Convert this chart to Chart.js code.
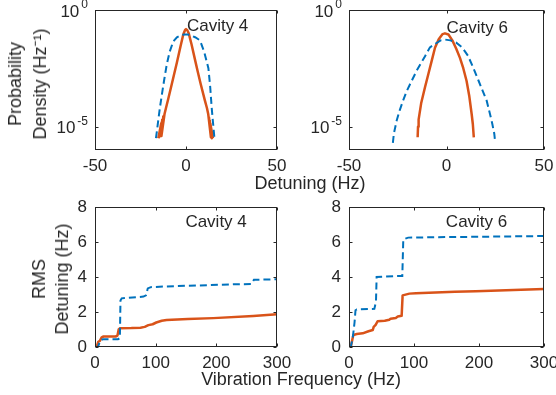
<!DOCTYPE html>
<html>
<head>
<meta charset="utf-8">
<script src="https://cdn.jsdelivr.net/npm/chart.js@4"></script>
<style>
  body { margin: 0; background: #fff; }
  #fig { position: relative; width: 556px; height: 395px; overflow: hidden;
         font-family: "Liberation Sans", Arial, sans-serif; color: #262626; }
  #fig canvas { position: absolute; left: 0; top: 0; }
  .lbl { position: absolute; font-size: 18px; white-space: nowrap; transform: translate(-50%, -50%); }
  .vlbl { position: absolute; font-size: 18px; white-space: nowrap; text-align: center;
          transform: translate(-50%, -50%) rotate(-90deg); }
</style>
</head>
<body>
<div id="fig">
  <canvas id="c4dens" width="556" height="395"></canvas>
  <canvas id="c6dens" width="556" height="395"></canvas>
  <canvas id="c4rms" width="556" height="395"></canvas>
  <canvas id="c6rms" width="556" height="395"></canvas>
  <div class="lbl" style="left:310px; top:183px;">Detuning (Hz)</div>
  <div class="lbl" style="left:301px; top:379px;">Vibration Frequency (Hz)</div>
  <div class="vlbl" style="left:28px; top:84px; line-height:25px;">Probability<br>Density (Hz⁻¹)</div>
  <div class="vlbl" style="left:51px; top:279px; line-height:23px;">RMS<br>Detuning (Hz)</div>
</div>
<script>
// --- styles ---
const FONT = { family: '"Liberation Sans", Arial, sans-serif', size: 17 };
const INK = '#262626';
const BLUE = '#0072BD';
const ORANGE = '#D95319';

// --- Cavity 4, detuning distribution ---
const c4BlueDet = [-16.5, -16, -15.2, -14.3, -13, -12, -10.6, -9, -7, -5, -3, -1, 1, 3, 5, 7.7, 10, 12.3, 13.3, 14.1, 14.8, 15.4, 15.6];
const c4BlueDens = [3.2e-6, 6.3e-6, 2e-5, 6.8e-5, 3.2e-4, 1e-3, 4.5e-3, 0.016, 0.045, 0.068, 0.08, 0.089, 0.089, 0.08, 0.068, 0.05, 0.016, 3.2e-3, 5e-4, 6.8e-5, 1.6e-5, 5e-6, 3.2e-6];
const c4OrangeDet = [-15.2, -13.6, -14.8, -13, -14.2, -12.4, -13.5, -11.8, -11, -9.7, -7.9, -6.5, -5, -3, -1.5, -0.5, 0, 0.7, 1.5, 3, 5, 6.5, 8, 10.4, 11.5, 12.2, 13.7, 12.6, 14.2, 13, 14.5, 13.4, 14.8];
const c4OrangeDens = [3.2e-6, 1.4e-5, 3.5e-6, 2e-5, 4e-6, 2.8e-5, 4e-6, 3.5e-5, 6.3e-5, 1.6e-4, 6.3e-4, 1.8e-3, 5.6e-3, 0.028, 0.089, 0.14, 0.151, 0.135, 0.1, 0.035, 7.1e-3, 2.2e-3, 7.1e-4, 1.3e-4, 6.3e-5, 3.5e-5, 3.5e-6, 2.5e-5, 3.2e-6, 1.8e-5, 3.5e-6, 1.3e-5, 3.2e-6];

// --- Cavity 6, detuning distribution ---
const c6BlueDet = [-27.5, -27, -25.5, -24, -22.3, -20.5, -18.7, -15.3, -11, -8.5, -5.9, -3, -0.8, 2, 5, 8, 11, 13.7, 16.3, 18.5, 20.6, 22.3, 23.5, 24.5, 25];
const c6BlueDens = [2e-6, 5e-6, 1.9e-5, 5e-5, 1.3e-4, 3.2e-4, 6.6e-4, 2.5e-3, 0.0105, 0.025, 0.035, 0.05, 0.054, 0.05, 0.04, 0.025, 0.011, 3.4e-3, 1e-3, 3.5e-4, 1.3e-4, 3.5e-5, 1.3e-5, 5e-6, 2e-6];
const c6OrangeDet = [-14.8, -14.6, -14.3, -13, -11, -9.3, -7.5, -5.9, -4, -2, -0.8, 1, 3, 5, 6.9, 8.6, 10.3, 11.7, 12.9, 13.5, 14];
const c6OrangeDens = [3.5e-6, 1e-5, 2e-5, 1e-4, 5e-4, 1.8e-3, 7.1e-3, 0.024, 0.056, 0.093, 0.1, 0.089, 0.05, 0.022, 8.9e-3, 3.2e-3, 9.1e-4, 2e-4, 3.5e-5, 1.3e-5, 3.5e-6];

// --- Cavity 4, cumulative RMS detuning ---
const c4BlueFreq = [0, 5, 8, 10, 14, 38, 41, 42, 44, 80, 84, 87, 92, 118, 228, 258, 262, 300];
const c4BlueRms = [0, 0.02, 0.3, 0.4, 0.45, 0.45, 0.5, 2.65, 2.78, 2.88, 2.95, 3.35, 3.42, 3.46, 3.58, 3.6, 3.84, 3.87];
const c4OrangeFreq = [0, 3, 5.5, 8, 11, 14, 34, 37, 39, 41, 60, 75, 82, 88, 95, 101, 110, 118, 153, 195, 261, 300];
const c4OrangeRms = [0, 0.05, 0.3, 0.35, 0.55, 0.6, 0.6, 0.65, 1.0, 1.07, 1.08, 1.1, 1.15, 1.25, 1.3, 1.4, 1.5, 1.54, 1.6, 1.65, 1.77, 1.87];

// --- Cavity 6, cumulative RMS detuning ---
const c6BlueFreq = [0, 3, 6, 8.5, 10, 12, 39, 41.5, 42.5, 70, 82, 83.5, 91, 150, 300];
const c6BlueRms = [0, 0.05, 0.6, 1.4, 2.1, 2.15, 2.18, 2.6, 4.0, 4.05, 4.06, 6.15, 6.25, 6.28, 6.34];
const c6OrangeFreq = [0, 3, 5, 6.7, 12, 21, 30, 36.5, 38, 41, 44, 55, 62, 64, 72, 75, 81, 82.5, 93, 103, 163, 195, 300];
const c6OrangeRms = [0, 0.05, 0.4, 0.69, 0.74, 0.78, 0.9, 0.97, 1.15, 1.26, 1.47, 1.5, 1.56, 1.62, 1.66, 1.74, 1.78, 2.95, 3.05, 3.07, 3.16, 3.18, 3.31];

// --- ticks ---
const detTicks = [-50, 0, 50];
const densTicks = [1e-5, 1];
const freqTicks = [0, 100, 200, 300];
const rmsTicks = [0, 2, 4, 6, 8];

const pts = (xs, ys) => xs.map((x, i) => ({ x, y: ys[i] }));

// box + inward ticks + log labels + cavity note
const framePlugin = {
  id: 'frame',
  afterDraw(chart, args, opts) {
    const { ctx, chartArea: a, scales: { x, y } } = chart;
    const L = Math.round(a.left) + 0.5, T = Math.round(a.top) + 0.5;
    const R = Math.round(a.right) - 0.5, B = Math.round(a.bottom) - 0.5;
    ctx.save();
    ctx.strokeStyle = INK;
    ctx.lineWidth = 1;
    ctx.strokeRect(L, T, R - L, B - T);
    ctx.beginPath();
    x.ticks.forEach(t => {
      const px = Math.round(x.getPixelForValue(t.value)) + 0.5;
      ctx.moveTo(px, B); ctx.lineTo(px, B - 3);
      ctx.moveTo(px, T); ctx.lineTo(px, T + 3);
    });
    y.ticks.forEach(t => {
      const py = Math.round(y.getPixelForValue(t.value)) + 0.5;
      ctx.moveTo(L, py); ctx.lineTo(L + 3, py);
      ctx.moveTo(R, py); ctx.lineTo(R - 3, py);
    });
    ctx.stroke();
    ctx.fillStyle = INK;
    if (opts.logLabels) {
      y.ticks.forEach(t => {
        const py = y.getPixelForValue(t.value);
        const sup = String(Math.round(Math.log10(t.value)));
        ctx.font = '12px ' + FONT.family;
        const sw = ctx.measureText(sup).width;
        const right = a.left - 7;
        ctx.textBaseline = 'middle';
        ctx.textAlign = 'left';
        ctx.fillText(sup, right - sw, py - 5);
        ctx.font = FONT.size + 'px ' + FONT.family;
        ctx.textAlign = 'right';
        ctx.fillText('10', right - sw - 2, py + 2);
      });
    }
    if (opts.note) {
      ctx.font = FONT.size + 'px ' + FONT.family;
      ctx.textAlign = 'left';
      ctx.textBaseline = 'middle';
      ctx.fillText(opts.note.text, x.getPixelForValue(opts.note.x), y.getPixelForValue(opts.note.y));
    }
    ctx.restore();
  }
};

function makeChart(id, box, xCfg, yCfg, datasets, note) {
  const fixTicks = vals => s => { s.ticks = vals.map(v => ({ value: v })); };
  new Chart(document.getElementById(id), {
    type: 'line',
    data: { datasets },
    options: {
      responsive: false,
      animation: false,
      layout: { padding: { left: box.left - 95, top: box.top, right: 556 - box.right, bottom: 395 - box.bottom - 30 } },
      plugins: { legend: { display: false }, tooltip: { enabled: false }, frame: { note, logLabels: yCfg.type === 'logarithmic' } },
      elements: { point: { radius: 0 }, line: { tension: 0 } },
      scales: {
        x: {
          type: 'linear', min: xCfg.min, max: xCfg.max,
          afterBuildTicks: fixTicks(xCfg.ticks),
          afterFit: s => { s.height = 30; s.paddingLeft = 0; s.paddingRight = 0; },
          ticks: { font: FONT, color: INK, padding: 6, maxRotation: 0, autoSkip: false },
          grid: { display: false, drawTicks: false },
          border: { display: false }
        },
        y: {
          type: yCfg.type, min: yCfg.min, max: yCfg.max,
          afterBuildTicks: fixTicks(yCfg.ticks),
          afterFit: s => { s.width = 95; s.paddingTop = 0; s.paddingBottom = 0; },
          ticks: { display: yCfg.type !== 'logarithmic', font: FONT, color: INK, padding: 8, autoSkip: false },
          grid: { display: false, drawTicks: false },
          border: { display: false }
        }
      }
    },
    plugins: [framePlugin]
  });
}

const blueSet = (xs, ys) => ({ data: pts(xs, ys), borderColor: BLUE, borderWidth: 2, borderDash: [7, 4] });
const orangeSet = (xs, ys) => ({ data: pts(xs, ys), borderColor: ORANGE, borderWidth: 2.5, borderJoinStyle: 'round' });

const detAxis = { min: -50, max: 50, ticks: detTicks };
const densAxis = { type: 'logarithmic', min: 1e-6, max: 1, ticks: densTicks };
const freqAxis = { min: 0, max: 300, ticks: freqTicks };
const rmsAxis = { type: 'linear', min: 0, max: 8, ticks: rmsTicks };

makeChart('c4dens', { left: 95, top: 10, right: 277, bottom: 150 }, detAxis, densAxis,
  [blueSet(c4BlueDet, c4BlueDens), orangeSet(c4OrangeDet, c4OrangeDens)],
  { text: 'Cavity 4', x: 0.5, y: 0.2 });
makeChart('c6dens', { left: 349, top: 10, right: 544, bottom: 150 }, detAxis, densAxis,
  [blueSet(c6BlueDet, c6BlueDens), orangeSet(c6OrangeDet, c6OrangeDens)],
  { text: 'Cavity 6', x: 0, y: 0.17 });
makeChart('c4rms', { left: 95, top: 207, right: 277, bottom: 347 }, freqAxis, rmsAxis,
  [blueSet(c4BlueFreq, c4BlueRms), orangeSet(c4OrangeFreq, c4OrangeRms)],
  { text: 'Cavity 4', x: 149, y: 7.1 });
makeChart('c6rms', { left: 349, top: 207, right: 544, bottom: 347 }, freqAxis, rmsAxis,
  [blueSet(c6BlueFreq, c6BlueRms), orangeSet(c6OrangeFreq, c6OrangeRms)],
  { text: 'Cavity 6', x: 149, y: 7.1 });
</script>
</body>
</html>
